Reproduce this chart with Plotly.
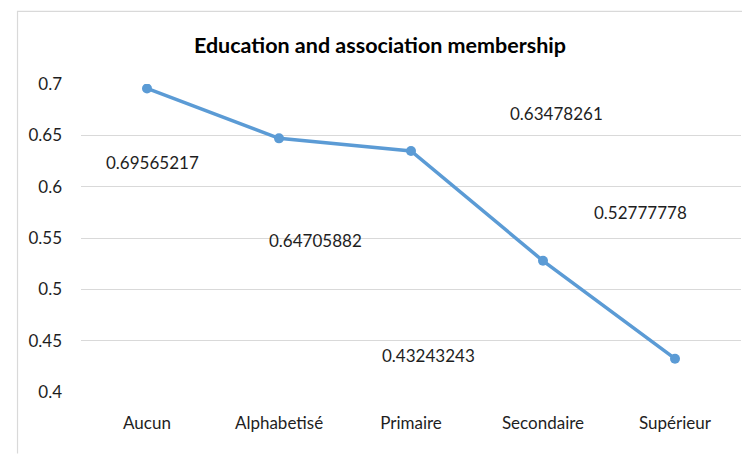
import plotly.graph_objects as go

# Share of respondents who belong to an association, by education level
categories = ["Aucun", "Alphabetisé", "Primaire", "Secondaire", "Supérieur"]
membership = [0.69565217, 0.64705882, 0.63478261, 0.52777778, 0.43243243]

# Data labels, one per category slot: index of the value shown, x offset, y position
label_source = [0, 1, 4, 2, 3]
label_dx = [0.04, 0.28, 0.13, 0.10, -0.26]
label_y = [0.624, 0.548, 0.436, 0.671, 0.575]

y_ticks = [0.4, 0.45, 0.5, 0.55, 0.6, 0.65, 0.7]

FONT = "Lato, 'Open Sans', sans-serif"
TEXT = "#1e1e1e"
BLUE = "#5B9BD5"

xs = list(range(len(categories)))

fig = go.Figure()
fig.add_trace(go.Scatter(
    x=xs, y=membership, mode="lines+markers",
    line=dict(color=BLUE, width=3.5),
    marker=dict(color=BLUE, size=10),
    hoverinfo="skip", showlegend=False,
))

for i, (src, dx, ly) in enumerate(zip(label_source, label_dx, label_y)):
    fig.add_annotation(
        x=xs[i] + dx, y=ly, xref="x", yref="y",
        text=f"{membership[src]:.8f}",
        showarrow=False, font=dict(family=FONT, size=17, color=TEXT),
        xanchor="center", yanchor="middle",
    )

# Chart frame (left and top edges)
fig.add_shape(type="path", xref="paper", yref="paper",
              path="M -0.0962 -0.2 L -0.0962 1.2358 L 1.0015 1.2358",
              line=dict(color="#D9D9D9", width=1.2), layer="below")

fig.update_layout(
    width=748, height=458,
    margin=dict(l=81, r=7, t=84, b=66),
    paper_bgcolor="white", plot_bgcolor="white",
    font=dict(family=FONT, color=TEXT),
    title=dict(text="<b>Education and association membership</b>",
               x=0.508, xanchor="center", y=1 - 45 / 458, yanchor="middle",
               yref="container", font=dict(family=FONT, size=21.5, color="#000000")),
    xaxis=dict(range=[-0.5, 4.5], tickvals=xs, ticktext=categories,
               showgrid=False, zeroline=False, showline=False,
               ticks="", ticklabelstandoff=19,
               tickfont=dict(family=FONT, size=17, color=TEXT)),
    yaxis=dict(range=[0.4, 0.7], tickvals=y_ticks,
               ticktext=[f"{v:g}" for v in y_ticks],
               showgrid=True, gridcolor="#D9D9D9", gridwidth=1.2,
               zeroline=False, showline=False, ticks="",
               ticklabelstandoff=18,
               tickfont=dict(family=FONT, size=17, color=TEXT)),
)

fig.write_html("out.html")
